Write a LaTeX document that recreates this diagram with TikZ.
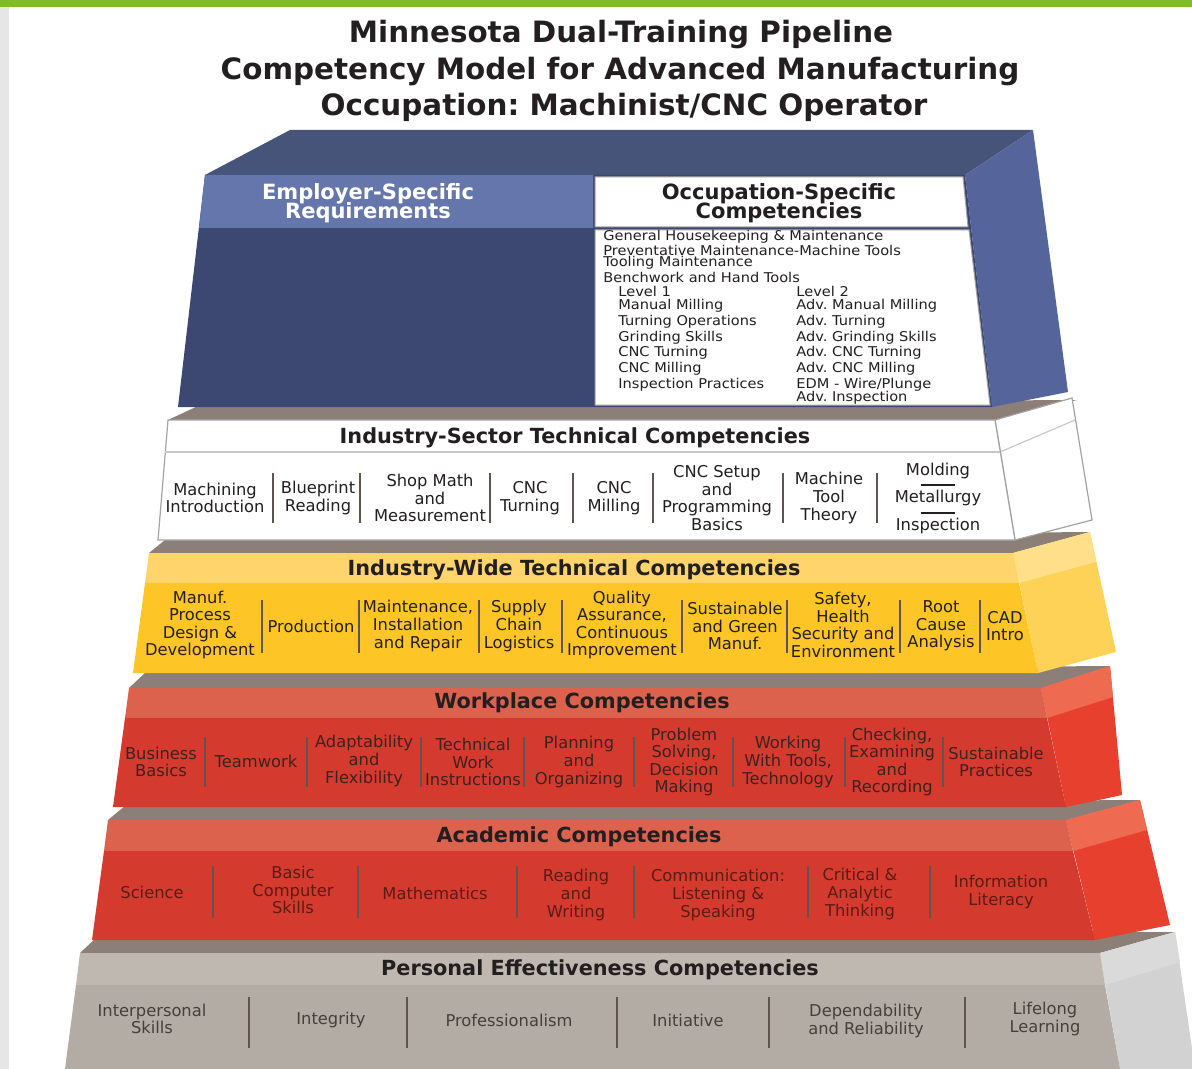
\documentclass[tikz,border=0pt]{standalone}
\usepackage{fontspec}
\setmainfont{DejaVu Sans}
\newfontfamily\listfont[FakeStretch=1.08]{DejaVu Sans}
\usetikzlibrary{positioning}
\frenchspacing
\newcommand\tightlines{\lineskiplimit=-20pt\relax}

\definecolor{bandgreen}{HTML}{7DBE21}
\definecolor{stripgray}{HTML}{E6E6E6}
\definecolor{inkgray}{HTML}{231F20}
\definecolor{brownface}{HTML}{8C7F77}
\definecolor{navytop}{HTML}{465479}
\definecolor{navyside}{HTML}{55649A}
\definecolor{navyfront}{HTML}{3D4872}
\definecolor{navyhead}{HTML}{6576AC}
\definecolor{boxline}{HTML}{A3A3A3}
\definecolor{yellowhead}{HTML}{FFD56B}
\definecolor{yellowbody}{HTML}{FDC526}
\definecolor{yellowside}{HTML}{FFDF8A}
\definecolor{yellowsidelo}{HTML}{FED257}
\definecolor{redhead}{HTML}{DD624D}
\definecolor{redbody}{HTML}{D53A2F}
\definecolor{redside}{HTML}{EE6B52}
\definecolor{redsidelo}{HTML}{E8402F}
\definecolor{redink}{HTML}{3D2222}
\definecolor{acadink}{HTML}{5A1C16}
\definecolor{grayhead}{HTML}{BFB8B1}
\definecolor{graybody}{HTML}{B3ACA5}
\definecolor{grayside}{HTML}{DADADA}
\definecolor{graysidelo}{HTML}{D2D2D2}
\definecolor{grayink}{HTML}{463E3A}
\definecolor{divgray}{HTML}{5E5550}

\begin{document}
\begin{tikzpicture}[x=0.5pt,y=-0.5pt,
  headline/.style={font=\fontsize{14.7}{16}\selectfont\bfseries,text=inkgray,inner sep=0},
  tiertitle/.style={font=\fontsize{10.4}{11}\selectfont\bfseries,text=inkgray,inner sep=0},
  boxtitle/.style={font=\fontsize{10.5}{9.5}\selectfont\bfseries\tightlines,align=center,inner sep=0},
  item/.style={font=\fontsize{8.15}{8.8}\selectfont\tightlines,align=center,inner sep=0},
  listitem/.style={font=\listfont\fontsize{6.75}{7}\selectfont,text=inkgray,anchor=west,inner sep=0},
  divider/.style={line width=0.9pt}]

  \useasboundingbox (0,0) rectangle (1192,1069);
  \fill[white] (0,0) rectangle (1192,1069);
  \fill[stripgray] (0,7) rectangle (9,1069);
  \fill[bandgreen] (0,0) rectangle (1192,7);

  % title
  \node[headline] (head1) at (621,35) {Minnesota Dual-Training Pipeline};
  \node[headline] (head2) at (620,72) {Competency Model for Advanced Manufacturing};
  \node[headline] (head3) at (624,107) {Occupation: Machinist/CNC Operator};

  % personal effectiveness tier
  \fill[brownface] (80,953) -- (96,938) -- (1175,932) -- (1100,953) -- cycle;
  \fill[graysidelo] (1100,953) -- (1175,932) -- (1195,1069) -- (1120,1069) -- cycle;
  \fill[grayside] (1100,953) -- (1175,932) -- (1180,962) -- (1105,985) -- cycle;
  \fill[grayhead] (80,953) -- (1100,953) -- (1105,985) -- (76,985) -- cycle;
  \fill[graybody] (76,985) -- (1105,985) -- (1120,1069) -- (65,1069) -- cycle;
  \node[tiertitle] (perstitle) at (600,970) {Personal Effectiveness Competencies};
  \begin{scope}[every node/.append style={item,text=grayink}]
    \node (pers1) at (152,1019) {Interpersonal\\Skills};
    \node (pers2) at (331,1020) {Integrity};
    \node (pers3) at (509,1020) {Professionalism};
    \node (pers4) at (688,1020) {Initiative};
    \node (pers5) at (866,1021) {Dependability\\and Reliability};
    \node (pers6) at (1045,1019) {Lifelong\\Learning};
  \end{scope}
  \foreach \x in {249,407,617,769,965}
    \draw[divider,divgray] (\x,997) -- (\x,1048);

  % academic tier
  \fill[brownface] (108,820) -- (125,806) -- (1140,800) -- (1066,820) -- cycle;
  \fill[redsidelo] (1066,820) -- (1140,800) -- (1170,925) -- (1095,940) -- cycle;
  \fill[redside] (1066,820) -- (1140,800) -- (1147,830) -- (1073,851) -- cycle;
  \fill[redhead] (108,820) -- (1066,820) -- (1073,851) -- (104,851) -- cycle;
  \fill[redbody] (104,851) -- (1073,851) -- (1095,940) -- (92,940) -- cycle;
  \node[tiertitle] (acadtitle) at (579,837) {Academic Competencies};
  \begin{scope}[every node/.append style={item,text=acadink}]
    \node (acad1) at (152,892) {Science};
    \node (acad2) at (293,890) {Basic\\Computer\\Skills};
    \node (acad3) at (435,893) {Mathematics};
    \node (acad4) at (576,895) {Reading\\and\\Writing};
    \node (acad5) at (718,895) {Communication:\\Listening \&\\Speaking};
    \node (acad6) at (860,894) {Critical \&\\Analytic\\Thinking};
    \node (acad7) at (1001,892) {Information\\Literacy};
  \end{scope}
  \foreach \x in {213,358,517,634,808,930}
    \draw[divider,divgray] (\x,866) -- (\x,918);

  % workplace tier
  \fill[brownface] (129,688) -- (145,673) -- (1110,666) -- (1041,688) -- cycle;
  \fill[redsidelo] (1041,688) -- (1110,666) -- (1122,795) -- (1066,807) -- cycle;
  \fill[redside] (1041,688) -- (1110,666) -- (1113,697) -- (1047,718) -- cycle;
  \fill[redhead] (129,688) -- (1041,688) -- (1047,718) -- (125,718) -- cycle;
  \fill[redbody] (125,718) -- (1047,718) -- (1066,807) -- (113,807) -- cycle;
  \node[tiertitle] (worktitle) at (582,703) {Workplace Competencies};
  \begin{scope}[every node/.append style={item,text=redink}]
    \node (work1) at (161,762) {Business\\Basics};
    \node (work2) at (256,761) {Teamwork};
    \node (work3) at (364,761) {Adaptability\\and\\Flexibility};
    \node (work4) at (473,762) {Technical\\Work\\Instructions};
    \node (work5) at (579,762) {Planning\\and\\Organizing};
    \node (work6) at (684,762) {Problem\\Solving,\\Decision\\Making};
    \node (work7) at (788,762) {Working\\With Tools,\\Technology};
    \node (work8) at (892,762) {Checking,\\Examining\\and\\Recording};
    \node (work9) at (996,762) {Sustainable\\Practices};
  \end{scope}
  \foreach \x in {205,307,421,524,634,733,845,943}
    \draw[divider,divgray] (\x,737) -- (\x,787);

  % industry-wide tier
  \fill[brownface] (149,553) -- (165,540) -- (1090,532) -- (1013,553) -- cycle;
  \fill[yellowsidelo] (1013,553) -- (1090,532) -- (1116,652) -- (1038,673) -- cycle;
  \fill[yellowside] (1013,553) -- (1090,532) -- (1096,562) -- (1019,583) -- cycle;
  \fill[yellowhead] (149,553) -- (1013,553) -- (1019,583) -- (145,583) -- cycle;
  \fill[yellowbody] (145,583) -- (1019,583) -- (1038,673) -- (133,673) -- cycle;
  \node[tiertitle] (widetitle) at (574,570) {Industry-Wide Technical Competencies};
  \begin{scope}[every node/.append style={item,text=inkgray}]
    \node (wide1) at (200,625) {Manuf.\\Process\\Design \&\\Development};
    \node (wide2) at (311,626) {Production};
    \node (wide3) at (418,626) {Maintenance,\\Installation\\and Repair};
    \node (wide4) at (519,626) {Supply\\Chain\\Logistics};
    \node (wide5) at (622,625) {Quality\\Assurance,\\Continuous\\Improvement};
    \node (wide6) at (735,626) {Sustainable\\and Green\\Manuf.};
    \node (wide7) at (843,625) {Safety,\\Health\\Security and\\Environment};
    \node (wide8) at (941,626) {Root\\Cause\\Analysis};
    \node (wide9) at (1005,626) {CAD\\Intro};
  \end{scope}
  \foreach \x in {262,359,479,562,682,787,900,980}
    \draw[divider,divgray] (\x,600) -- (\x,653);

  % industry-sector tier
  \fill[brownface] (168,420) -- (200,405) -- (1077,400) -- (995,420) -- cycle;
  \filldraw[fill=white,draw=boxline,line width=0.6pt] (995,420) -- (1072,398) -- (1092,520) -- (1015,540) -- cycle;
  \draw[boxline!60,line width=0.6pt] (1000,452) -- (1075,420);
  \filldraw[fill=white,draw=boxline,line width=0.6pt] (168,420) -- (995,420) -- (1015,540) -- (158,540) -- cycle;
  \draw[boxline!60,line width=0.6pt] (165,452) -- (1000,452);
  \node[tiertitle] (sectitle) at (575,438) {Industry-Sector Technical Competencies};
  \begin{scope}[every node/.append style={item,text=inkgray}]
    \node (sec1) at (215,498) {Machining\\Introduction};
    \node (sec2) at (318,498) {Blueprint\\Reading};
    \node (sec3) at (430,498) {Shop Math\\and\\Measurement};
    \node (sec4) at (530,498) {CNC\\Turning};
    \node (sec5) at (614,498) {CNC\\Milling};
    \node (sec6) at (717,498) {CNC Setup\\and\\Programming\\Basics};
    \node (sec7) at (829,498) {Machine\\Tool\\Theory};
    \node (mold) at (938,471) {Molding};
    \node (metal) at (938,498) {Metallurgy};
    \node (insp) at (938,526) {Inspection};
  \end{scope}
  \foreach \x in {273,360,490,573,653,783,877}
    \draw[divider,divgray] (\x,473) -- (\x,523);
  \draw[inkgray,line width=0.8pt] (921,485) -- (955,485);
  \draw[inkgray,line width=0.8pt] (921,513) -- (955,513);

  % employer / occupation block
  \fill[navytop] (205,175) -- (290,130) -- (1033,130) -- (965,175) -- cycle;
  \fill[navyside] (965,175) -- (1033,130) -- (1068,392) -- (992,407) -- cycle;
  \fill[navyfront] (205,175) -- (965,175) -- (992,407) -- (178,407) -- cycle;
  \fill[navyhead] (205,175) -- (593,175) -- (593,228) -- (199,228) -- cycle;
  \filldraw[fill=white,draw=boxline,line width=0.5pt] (595,177) -- (963,177) -- (968,227) -- (595,227) -- cycle;
  \filldraw[fill=white,draw=boxline,line width=0.5pt] (595,230) -- (969,230) -- (990,405) -- (595,405) -- cycle;
  \node[boxtitle,text=white] (emptitle) at (368,203) {Employer-Specific\\Requirements};
  \node[boxtitle,text=inkgray] (occtitle) at (779,203) {Occupation-Specific\\Competencies};

  \node[listitem] (occ1) at (603,237) {General Housekeeping \& Maintenance};
  \node[listitem] (occ2) at (603,250) {Preventative Maintenance-Machine Tools};
  \node[listitem] (occ3) at (603,263) {Tooling Maintenance};
  \node[listitem] (occ4) at (603,277) {Benchwork and Hand Tools};
  \node[listitem] (lvla0) at (618,291) {Level 1};
  \node[listitem] (lvla1) at (618,306) {Manual Milling};
  \node[listitem] (lvla2) at (618,322) {Turning Operations};
  \node[listitem] (lvla3) at (618,338) {Grinding Skills};
  \node[listitem] (lvla4) at (618,353) {CNC Turning};
  \node[listitem] (lvla5) at (618,369) {CNC Milling};
  \node[listitem] (lvla6) at (618,385) {Inspection Practices};
  \node[listitem] (lvlb0) at (796,291) {Level 2};
  \node[listitem] (lvlb1) at (796,306) {Adv. Manual Milling};
  \node[listitem] (lvlb2) at (796,322) {Adv. Turning};
  \node[listitem] (lvlb3) at (796,338) {Adv. Grinding Skills};
  \node[listitem] (lvlb4) at (796,353) {Adv. CNC Turning};
  \node[listitem] (lvlb5) at (796,369) {Adv. CNC Milling};
  \node[listitem] (lvlb6) at (796,385) {EDM - Wire/Plunge};
  \node[listitem] (lvlb7) at (796,398) {Adv. Inspection};

\end{tikzpicture}
\end{document}
